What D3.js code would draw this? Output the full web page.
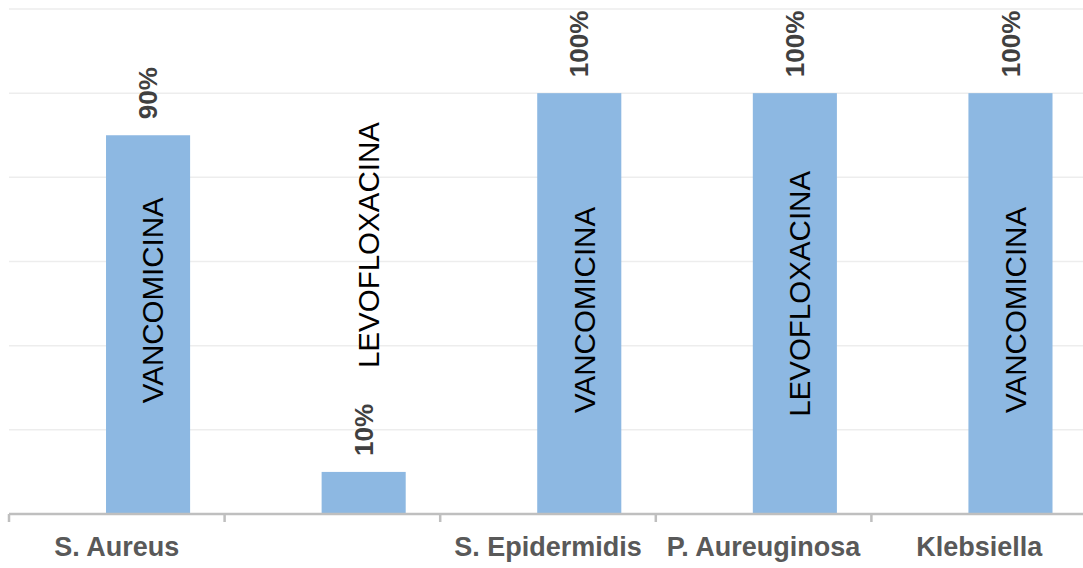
<!DOCTYPE html>
<html>
<head>
<meta charset="utf-8">
<script src="https://cdn.jsdelivr.net/npm/d3@7"></script>
<style>
  html, body { margin: 0; padding: 0; background: #fff; }
  svg { display: block; font-family: "Liberation Sans", Arial, sans-serif; }
</style>
</head>
<body>
<div class="BarChart"></div>
<script>
// chart values
const categories = ["S. Aureus", "", "S. Epidermidis", "P. Aureuginosa", "Klebsiella"];
const percentages = [90, 10, 100, 100, 100];
const drugs = ["VANCOMICINA", "LEVOFLOXACINA", "VANCOMICINA", "LEVOFLOXACINA", "VANCOMICINA"];
// where each drug name sits on the value axis (percent)
const drugLabelAt = [50.8, 63.9, 48.5, 52.3, 48.5];
const yTicks = [0, 20, 40, 60, 80, 100, 120];

const width = 1083, height = 568;
const margin = { top: 9, right: -4, bottom: 54, left: 9 };

const svg = d3.select(".BarChart")
  .append("svg")
  .attr("width", width)
  .attr("height", height);

const x = d3.scaleBand()
  .domain(d3.range(categories.length))
  .range([margin.left, width - margin.right])
  .paddingInner(0)
  .paddingOuter(0);

const y = d3.scaleLinear()
  .domain([0, 120])
  .range([height - margin.bottom, margin.top]);

// gridlines
svg.append("g")
  .selectAll("line")
  .data(yTicks.slice(1))
  .join("line")
  .attr("x1", margin.left)
  .attr("x2", width - margin.right)
  .attr("y1", d => y(d))
  .attr("y2", d => y(d))
  .attr("stroke", "#ededed")
  .attr("stroke-width", 1.5);

// bars
const barOffset = 0.45, barWidth = 0.39;
svg.append("g")
  .selectAll("rect")
  .data(percentages)
  .join("rect")
  .attr("x", (d, i) => x(i) + x.bandwidth() * barOffset)
  .attr("width", x.bandwidth() * barWidth)
  .attr("y", d => y(d))
  .attr("height", d => y(0) - y(d))
  .attr("fill", "#8db8e2");

// x axis: baseline plus separators between categories
const xAxis = svg.append("g")
  .attr("transform", `translate(0,${y(0)})`);
xAxis.append("line")
  .attr("x1", margin.left)
  .attr("x2", width - margin.right)
  .attr("stroke", "#bfbfbf")
  .attr("stroke-width", 2.5);
xAxis.selectAll(".sep")
  .data(d3.range(categories.length + 1))
  .join("line")
  .attr("class", "sep")
  .attr("x1", i => i < categories.length ? x(i) : x.range()[1])
  .attr("x2", i => i < categories.length ? x(i) : x.range()[1])
  .attr("y1", 0)
  .attr("y2", 8)
  .attr("stroke", "#bfbfbf")
  .attr("stroke-width", 2.5);

// category labels
svg.append("g")
  .selectAll("text")
  .data(categories)
  .join("text")
  .attr("x", (d, i) => x(i) + x.bandwidth() / 2)
  .attr("y", y(0) + 42)
  .attr("text-anchor", "middle")
  .attr("fill", "#595959")
  .style("font-size", "27px")
  .style("font-weight", "bold")
  .text(d => d);

// value labels above bars
svg.append("g")
  .selectAll("text")
  .data(percentages)
  .join("text")
  .attr("transform", (d, i) => {
    const cx = x(i) + x.bandwidth() * (barOffset + barWidth / 2);
    return `translate(${cx},${y(d) - 16}) rotate(-90)`;
  })
  .attr("dy", "0.35em")
  .attr("text-anchor", "start")
  .attr("fill", "#404040")
  .style("font-size", "26px")
  .style("font-weight", "bold")
  .text(d => d + "%");

// drug names inside / above bars
svg.append("g")
  .selectAll("text")
  .data(drugs)
  .join("text")
  .attr("transform", (d, i) => {
    const cx = x(i) + x.bandwidth() * (barOffset + barWidth / 2) + 5;
    return `translate(${cx},${y(drugLabelAt[i])}) rotate(-90)`;
  })
  .attr("dy", "0.35em")
  .attr("text-anchor", "middle")
  .attr("fill", "#000")
  .style("font-size", "29.5px")
  .text(d => d);
</script>
</body>
</html>
